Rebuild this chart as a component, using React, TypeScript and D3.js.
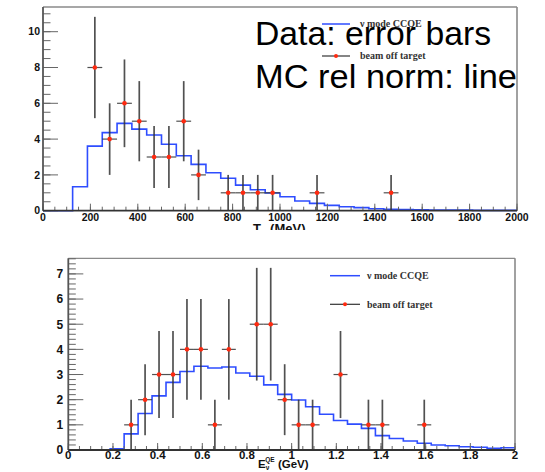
import React from "react";
import * as d3 from "d3";

// ---------- Top chart data (T_mu, MeV) ----------
const topBinWidth = 62.5;
const topMC = [
  0, 0, 1.34, 3.61, 4.36, 4.88, 4.56, 4.23, 3.71, 3.07, 2.59, 2.12, 1.81, 1.43, 1.17, 0.99,
  0.78, 0.54, 0.41, 0.3, 0.22, 0.17, 0.11, 0.08, 0.06, 0.05, 0.04, 0.03, 0.03, 0.02, 0.02, 0.02,
];
const topDataX = [218.75, 281.25, 343.75, 406.25, 468.75, 531.25, 593.75, 656.25, 781.25, 843.75, 906.25, 968.75, 1156.25, 1468.75];
const topDataY = [8, 4, 6, 5, 3, 3, 5, 2, 1, 1, 1, 1, 1, 1];
const topDataErr = [2.83, 2.0, 2.45, 2.24, 1.73, 1.73, 2.24, 1.41, 1, 1, 1, 1, 1, 1];
const topXTicks = [0, 200, 400, 600, 800, 1000, 1200, 1400, 1600, 1800, 2000];
const topYTicks = [0, 2, 4, 6, 8, 10];

// ---------- Bottom chart data (E_nu^QE, GeV) ----------
const botBinWidth = 0.0625;
const botMC = [
  0, 0, 0, 0.05, 0.64, 1.45, 2.15, 2.69, 3.12, 3.33, 3.26, 3.3, 3.06, 2.93, 2.59, 2.21,
  1.99, 1.72, 1.42, 1.17, 1.03, 0.86, 0.57, 0.46, 0.36, 0.27, 0.2, 0.17, 0.13, 0.11, 0.07, 0.09,
];
const botDataX = [0.28125, 0.34375, 0.40625, 0.46875, 0.53125, 0.59375, 0.65625, 0.71875, 0.84375, 0.90625, 0.96875, 1.03125, 1.09375, 1.21875, 1.34375, 1.40625, 1.59375];
const botDataY = [1, 2, 3, 3, 4, 4, 1, 4, 5, 5, 2, 1, 1, 3, 1, 1, 1];
const botDataErr = [1, 1.41, 1.73, 1.73, 2, 2, 1, 2, 2.24, 2.24, 1.41, 1, 1, 1.73, 1, 1, 1];
const botXTicks = [0, 0.2, 0.4, 0.6, 0.8, 1, 1.2, 1.4, 1.6, 1.8, 2];
const botXLabels = ["0", "0.2", "0.4", "0.6", "0.8", "1", "1.2", "1.4", "1.6", "1.8", "2"];
const botYTicks = [0, 1, 2, 3, 4, 5, 6, 7];

const legendLabels = ["\u03bd mode CCQE", "beam off target"];
const noteLines = ["Data: error bars", "MC rel norm: line"];

const MC_COLOR = "#2e4dff";
const ERR_COLOR = "#333333";
const PT_COLOR = "#ff2a10";
const AXIS_FONT = "'Liberation Sans', Arial, sans-serif";
const LEG_FONT = "'Liberation Serif', 'Times New Roman', serif";

type PanelProps = {
  x0: number; x1: number; yTop: number; yBot: number;
  xMax: number; yMax: number;
  mc: number[]; binW: number;
  dx: number[]; dy: number[]; de: number[];
  xTicks: number[]; xLabels: string[]; xMinorStep: number;
  yTicks: number[]; yMinorStep: number;
  xFont: number; yFont: number; xLabelDy: number; yLabelGap: number;
};

function Panel(p: PanelProps) {
  const x = d3.scaleLinear().domain([0, p.xMax]).range([p.x0, p.x1]);
  const y = d3.scaleLinear().domain([0, p.yMax]).range([p.yBot, p.yTop]);
  const pts: [number, number][] = p.mc.map((v, i) => [i * p.binW, v]);
  pts.push([p.xMax, p.mc[p.mc.length - 1]]);
  const line = d3.line<[number, number]>().x(d => x(d[0])).y(d => y(d[1])).curve(d3.curveStepAfter);
  const xMinor = d3.range(0, p.xMax + 1e-9, p.xMinorStep);
  const yMinor = d3.range(0, p.yMax, p.yMinorStep);
  const yMajLen = 15, yMinLen = 7.5, xMajLen = 7, xMinLen = 4;
  return (
    <g>
      <line x1={p.x0} x2={p.x1} y1={p.yTop} y2={p.yTop} stroke="#8a8a8a" strokeWidth={1.3} />
      <line x1={p.x1} x2={p.x1} y1={p.yTop} y2={p.yBot} stroke="#8a8a8a" strokeWidth={1.6} />
      <path d={line(pts) || ""} fill="none" stroke={MC_COLOR} strokeWidth={1.6} />
      {yMinor.map((v, i) => (
        <line key={"ym" + i} x1={p.x0} x2={p.x0 + yMinLen} y1={y(v)} y2={y(v)} stroke="#666" strokeWidth={1} />
      ))}
      {p.yTicks.map((v, i) => (
        <line key={"yM" + i} x1={p.x0} x2={p.x0 + yMajLen} y1={y(v)} y2={y(v)} stroke="#666" strokeWidth={1} />
      ))}
      {xMinor.map((v, i) => (
        <line key={"xm" + i} x1={x(v)} x2={x(v)} y1={p.yBot} y2={p.yBot - xMinLen} stroke="#666" strokeWidth={1} />
      ))}
      {p.xTicks.map((v, i) => (
        <line key={"xM" + i} x1={x(v)} x2={x(v)} y1={p.yBot} y2={p.yBot - xMajLen} stroke="#666" strokeWidth={1} />
      ))}
      {p.dx.map((cx, i) => (
        <g key={"d" + i}>
          <line x1={x(cx)} x2={x(cx)} y1={y(p.dy[i] - p.de[i])} y2={y(p.dy[i] + p.de[i])} stroke={ERR_COLOR} strokeWidth={1.7} strokeOpacity={0.85} />
          <line x1={x(cx - p.binW / 2)} x2={x(cx + p.binW / 2)} y1={y(p.dy[i])} y2={y(p.dy[i])} stroke={ERR_COLOR} strokeWidth={1.2} strokeOpacity={0.85} />
          <circle cx={x(cx)} cy={y(p.dy[i])} r={2.3} fill={PT_COLOR} />
        </g>
      ))}
      <line x1={p.x0} x2={p.x0} y1={p.yTop} y2={p.yBot} stroke="#555" strokeWidth={1.8} />
      <line x1={p.x0} x2={p.x1} y1={p.yBot} y2={p.yBot} stroke="#333" strokeWidth={1.8} />
      {p.yTicks.map((v, i) => (
        <text key={"yl" + i} x={p.x0 - p.yLabelGap} y={y(v)} dy="0.36em" textAnchor="end" fontFamily={AXIS_FONT} fontWeight="bold" fontSize={p.yFont} fill="#111">
          {v}
        </text>
      ))}
      {p.xTicks.map((v, i) => (
        <text key={"xl" + i} x={x(v)} y={p.yBot + p.xLabelDy} textAnchor="middle" fontFamily={AXIS_FONT} fontWeight="bold" fontSize={p.xFont} fill="#111">
          {p.xLabels[i]}
        </text>
      ))}
    </g>
  );
}

export default function App() {
  return (
    <svg width={545} height={472} style={{ position: "absolute", left: 0, top: 0, background: "#fff" }}>
      <defs>
        <clipPath id="topclip">
          <rect x={0} y={0} width={545} height={230} />
        </clipPath>
      </defs>
      <rect x={0} y={0} width={545} height={472} fill="#fff" />
      {/* ---------- Top panel ---------- */}
      <g clipPath="url(#topclip)">
        <Panel x0={43} x1={517} yTop={7} yBot={210.7} xMax={2000} yMax={11.38}
          mc={topMC} binW={topBinWidth} dx={topDataX} dy={topDataY} de={topDataErr}
          xTicks={topXTicks} xLabels={topXTicks.map(String)} xMinorStep={50}
          yTicks={topYTicks} yMinorStep={0.5}
          xFont={10.5} yFont={10.5} xLabelDy={10} yLabelGap={3} />
        <text x={253} y={233} fontFamily={AXIS_FONT} fontWeight="bold" fontSize={13} fill="#111">
          T<tspan dy={3} fontSize={9}>{"\u03bc"}</tspan><tspan dy={-3}>{" (MeV)"}</tspan>
        </text>
      </g>
      {/* top legend */}
      <line x1={322} x2={350} y1={24} y2={24} stroke={MC_COLOR} strokeWidth={1.5} />
      <text x={360} y={27} fontFamily={LEG_FONT} fontWeight="bold" fontSize={10} fill="#333">{legendLabels[0]}</text>
      <line x1={322} x2={350} y1={56} y2={56} stroke={ERR_COLOR} strokeWidth={1.2} />
      <circle cx={336} cy={56} r={2} fill={PT_COLOR} />
      <text x={360} y={59} fontFamily={LEG_FONT} fontWeight="bold" fontSize={10} fill="#333">{legendLabels[1]}</text>
      {/* overlay note */}
      <text x={255} y={45} fontFamily="'Liberation Sans', Arial, sans-serif" fontSize={33} fill="#000" textLength={236} lengthAdjust="spacingAndGlyphs">{noteLines[0]}</text>
      <text x={255} y={88} fontFamily="'Liberation Sans', Arial, sans-serif" fontSize={33} fill="#000" textLength={262} lengthAdjust="spacingAndGlyphs">{noteLines[1]}</text>

      {/* ---------- Bottom panel ---------- */}
      <Panel x0={68.3} x1={515} yTop={258.3} yBot={450} xMax={2} yMax={7.62}
        mc={botMC} binW={botBinWidth} dx={botDataX} dy={botDataY} de={botDataErr}
        xTicks={botXTicks} xLabels={botXLabels} xMinorStep={0.05}
        yTicks={botYTicks} yMinorStep={0.2}
        xFont={11.5} yFont={12} xLabelDy={8.5} yLabelGap={5} />
      <text x={258} y={467.5} fontFamily={AXIS_FONT} fontWeight="bold" fontSize={11.5} fill="#111">
        E<tspan dy={2} fontSize={6.5}>{"\u03bd"}</tspan><tspan dx={-4} dy={-7.5} fontSize={6.5}>QE</tspan><tspan dy={5.5}>{" (GeV)"}</tspan>
      </text>
      {/* bottom legend */}
      <line x1={330} x2={360} y1={275.7} y2={275.7} stroke={MC_COLOR} strokeWidth={1.5} />
      <text x={367} y={279} fontFamily={LEG_FONT} fontWeight="bold" fontSize={10} fill="#333">{legendLabels[0]}</text>
      <line x1={330} x2={360} y1={304.3} y2={304.3} stroke={ERR_COLOR} strokeWidth={1.2} />
      <circle cx={345} cy={304.3} r={2} fill={PT_COLOR} />
      <text x={367} y={307.5} fontFamily={LEG_FONT} fontWeight="bold" fontSize={10} fill="#333">{legendLabels[1]}</text>
    </svg>
  );
}
